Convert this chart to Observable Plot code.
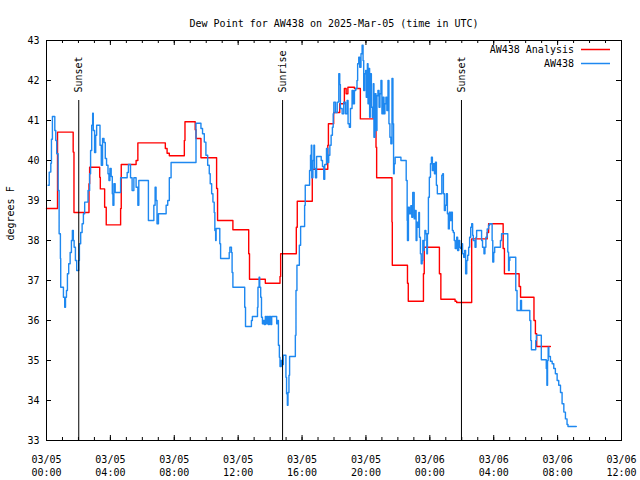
<!DOCTYPE html>
<html><head><meta charset="utf-8">
<script src="https://cdn.jsdelivr.net/npm/d3@7"></script>
<script src="https://cdn.jsdelivr.net/npm/@observablehq/plot@0.6"></script>
<style>body{margin:0;background:#fff}</style>
</head><body><div id="chart"></div>
<script>
const title = "Dew Point for AW438 on 2025-Mar-05 (time in UTC)";
const yLabel = "degrees F";
const startUTC = "2025-03-05T00:00:00Z";
const endUTC = "2025-03-06T12:00:00Z";
const yTicks = [33, 34, 35, 36, 37, 38, 39, 40, 41, 42, 43];
const seriesNames = ["AW438 Analysis", "AW438"];
const seriesColors = ["#ff0000", "#1e88f0"];
const eventLabels = ["Sunset", "Sunrise", "Sunset"];
const eventHours = [2.02, 14.78, 25.98];

// hours since 2025-03-05 00:00 UTC
const analysisHours = [0.00,0.69,1.67,1.72,2.66,2.70,3.33,3.37,3.64,3.74,4.64,4.68,5.61,5.72,7.44,7.55,7.69,8.63,8.67,9.31,9.36,9.67,10.65,10.71,11.67,12.66,12.71,13.70,14.62,14.66,15.64,15.70,16.64,17.61,17.65,17.98,18.36,18.65,18.76,18.87,19.28,19.65,20.63,20.67,21.63,21.65,22.60,22.65,23.60,23.65,24.60,24.69,25.58,25.68,26.62,27.59,27.68,28.59,28.67,29.59,29.68,30.52,30.61,30.69,31.55];
const analysisValues = [38.8,40.71,40.21,38.7,39.42,39.83,39.58,39.29,38.83,38.39,38.8,39.9,40.0,40.44,40.3,40.18,40.12,40.5,40.97,40.77,40.55,40.07,39.3,38.5,38.27,37.67,37.03,36.93,37.1,37.67,38.33,38.98,39.78,40.38,40.92,41.2,41.42,41.8,41.67,41.83,41.8,41.04,40.33,39.57,38.46,37.38,36.93,36.48,37.17,37.83,37.17,36.53,36.48,36.45,38.04,38.2,38.42,37.8,37.17,36.85,36.58,36.0,35.67,35.35,35.35];

const obsHours = [0.10,0.17,0.27,0.31,0.37,0.52,0.58,0.64,0.73,0.79,0.87,0.89,1.06,1.14,1.19,1.25,1.31,1.39,1.48,1.56,1.62,1.68,1.73,1.81,1.89,2.02,2.06,2.14,2.23,2.31,2.39,2.60,2.70,2.76,2.83,2.89,2.93,3.01,3.08,3.14,3.35,3.43,3.51,3.60,3.68,3.76,3.85,3.91,3.97,4.05,4.12,4.16,4.22,4.30,4.64,5.05,5.13,5.26,5.36,5.47,5.61,5.72,5.78,6.38,6.72,6.80,6.86,6.92,7.01,7.49,7.59,7.69,7.80,9.36,9.67,9.77,9.88,9.98,10.09,10.19,10.25,10.34,10.42,10.50,10.54,10.59,10.62,10.85,10.90,11.44,11.48,11.58,11.62,11.67,12.41,12.46,12.83,12.89,13.21,13.24,13.31,13.35,13.41,13.46,13.52,13.58,13.64,13.70,13.77,13.83,13.89,13.95,14.04,14.10,14.41,14.47,14.52,14.58,14.62,14.70,14.77,14.83,14.99,15.03,15.08,15.12,15.18,15.22,15.58,15.62,15.68,15.83,15.91,16.16,16.20,16.47,16.53,16.58,16.61,16.68,16.74,16.78,16.84,16.91,17.20,17.28,17.36,17.42,17.53,17.61,17.67,17.74,17.82,17.90,17.95,17.99,18.09,18.20,18.30,18.36,18.40,18.51,18.61,18.72,18.82,18.88,18.96,19.03,19.13,19.20,19.28,19.36,19.44,19.48,19.55,19.61,19.69,19.76,19.82,19.86,19.92,19.98,20.02,20.09,20.13,20.19,20.23,20.27,20.34,20.40,20.46,20.50,20.57,20.63,20.69,20.75,20.82,20.88,20.94,21.00,21.07,21.13,21.19,21.25,21.31,21.38,21.44,21.50,21.56,21.63,21.69,21.73,21.77,21.83,22.19,22.52,22.58,22.60,22.66,22.72,22.81,22.87,22.93,23.02,23.08,23.14,23.19,23.25,23.31,23.35,23.41,23.46,23.52,23.56,23.60,23.64,23.69,23.75,23.81,23.85,23.91,23.97,24.04,24.10,24.16,24.22,24.29,24.35,24.41,24.47,24.75,24.81,24.85,24.91,24.97,25.03,25.10,25.16,25.22,25.28,25.35,25.41,25.47,25.53,25.59,25.68,25.74,25.81,25.87,25.93,25.99,26.05,26.12,26.18,26.24,26.31,26.37,26.43,26.49,26.56,26.62,26.68,26.72,26.83,26.89,26.93,27.24,27.30,27.39,27.45,27.51,27.59,27.68,27.74,27.90,27.94,28.00,28.06,28.42,28.49,28.88,28.93,28.97,29.01,29.38,29.46,29.68,29.74,30.26,30.32,30.36,30.63,30.67,30.98,31.29,31.33,31.37,31.41,31.45,31.55,31.66,31.76,31.86,31.97,32.07,32.18,32.28,32.39,32.49,32.59,32.65,33.17];
const obsValues = [39.38,39.71,39.93,40.53,41.1,40.75,40.5,40.17,39.25,38.17,37.55,36.83,36.58,36.33,36.58,36.75,37.17,37.42,37.7,38.0,38.25,38.0,37.83,37.5,37.25,37.5,37.92,38.2,38.42,38.67,38.96,39.25,39.67,40.25,40.88,41.18,40.75,40.2,40.63,40.88,40.38,39.88,40.55,40.45,40.05,39.88,39.67,39.5,39.8,39.6,39.17,38.88,39.42,39.2,39.57,39.7,39.9,39.57,39.25,39.57,39.33,38.88,39.5,38.5,38.88,39.33,39.0,38.42,38.67,38.88,39.0,39.57,39.95,40.93,40.8,40.67,40.46,40.13,39.88,39.67,39.42,39.17,38.96,38.7,38.25,38.0,38.3,37.92,37.55,37.7,37.83,37.7,37.2,36.83,36.33,35.85,36.0,36.1,36.33,36.83,37.08,36.83,36.58,36.08,35.92,36.0,35.9,36.1,35.92,36.1,35.9,36.1,35.9,36.1,35.92,36.0,35.38,35.08,34.85,35.0,34.9,35.13,34.58,34.17,33.88,34.2,34.63,35.1,35.63,36.75,37.38,37.88,38.35,38.88,39.38,39.75,40.13,40.38,39.57,40.0,40.38,39.8,39.57,40.1,40.0,39.85,39.53,39.9,40.3,39.95,40.13,40.38,40.63,40.83,41.17,41.46,41.2,41.46,42.17,41.9,41.3,41.17,41.46,41.17,41.5,40.92,40.83,41.3,41.75,41.42,41.75,41.8,42.0,42.42,42.58,42.33,42.67,42.88,42.5,41.75,42.17,42.25,41.58,42.42,41.42,42.3,41.08,42.17,41.33,41.08,41.92,40.58,41.67,40.75,41.62,41.75,41.33,41.67,42.0,41.17,41.58,41.17,41.42,41.58,41.25,42.0,40.92,40.58,40.42,42.05,40.92,39.67,39.92,40.08,40.0,39.5,38.5,38.0,38.83,38.67,38.87,38.58,39.2,38.54,38.75,38.0,38.46,38.33,38.7,38.08,37.67,37.42,37.5,38.0,37.75,38.0,38.25,38.17,37.67,38.17,39.08,39.58,39.92,40.08,39.75,39.92,39.67,39.96,39.38,39.17,39.63,39.67,39.17,38.75,38.88,39.17,38.67,38.29,38.71,38.5,38.71,38.25,38.2,38.0,37.8,38.08,37.75,38.0,37.83,37.8,37.92,37.67,37.58,37.75,37.17,37.5,37.63,37.83,38.08,38.33,38.42,38.13,38.0,37.83,38.08,38.25,38.0,37.83,37.67,37.83,38.08,38.29,38.38,38.42,38.0,37.46,37.7,37.83,38.0,38.17,37.71,37.25,37.5,37.58,36.75,36.25,36.5,36.25,36.0,35.5,35.27,35.5,35.63,35.02,34.8,34.38,35.0,35.33,35.1,34.98,34.92,34.8,34.67,34.5,34.38,34.2,33.92,33.71,33.54,33.4,33.35,33.35];

const FONT = "'DejaVu Sans Mono', 'Liberation Mono', monospace";
const t0 = Date.parse(startUTC);
const t1 = Date.parse(endUTC);
const toDate = h => new Date(t0 + h * 3600000);
const analysis = analysisHours.map((h, i) => ({time: toDate(h), value: analysisValues[i]}));
const obs = obsHours.map((h, i) => ({time: toDate(h), value: obsValues[i]}));
const events = eventHours.map((h, i) => ({time: toDate(h), label: eventLabels[i]}));

const W = 640, H = 480, ML = 46, MR = 19, MT = 40, MB = 40;
const FW = W - ML - MR, FH = H - MT - MB;
const majorX = d3.utcHour.every(4).range(new Date(t0), new Date(t1 + 1));
const minorX = d3.utcHour.range(new Date(t0), new Date(t1 + 1));
const fmtD = d3.utcFormat("%m/%d"), fmtT = d3.utcFormat("%H:%M");

function legend(index, scales, values, dims) {
  const g = d3.create("svg:g").attr("font-family", FONT).attr("font-size", 10);
  const xr = dims.width - dims.marginRight;
  seriesNames.forEach((name, i) => {
    const y = dims.marginTop + 9.5 + i * 14;
    g.append("text").attr("x", xr - 47).attr("y", y).attr("dy", "0.32em")
      .attr("text-anchor", "end").attr("fill", "#000").text(name);
    g.append("line").attr("x1", xr - 40).attr("x2", xr - 11).attr("y1", y).attr("y2", y)
      .attr("stroke", seriesColors[i]).attr("stroke-width", 1.5);
  });
  return g.node();
}

const chart = Plot.plot({
  width: W, height: H,
  marginLeft: ML, marginRight: MR, marginTop: MT, marginBottom: MB,
  style: {fontFamily: FONT, fontSize: "10px", background: "#fff", color: "#000"},
  x: {type: "utc", domain: [new Date(t0), new Date(t1)]},
  y: {domain: [33, 43]},
  marks: [
    Plot.line(analysis, {x: "time", y: "value", curve: "step-after", stroke: seriesColors[0], strokeWidth: 1.4}),
    Plot.line(obs, {x: "time", y: "value", curve: "step-after", stroke: seriesColors[1], strokeWidth: 1.4}),
    Plot.ruleX(events, {x: "time", insetTop: 60, stroke: "#000"}),
    Plot.text(events, {x: "time", text: "label", frameAnchor: "top", dy: 52, rotate: -90, textAnchor: "start", lineAnchor: "middle", fill: "#000"}),
    Plot.ruleX(minorX, {insetTop: FH - 3, stroke: "#000"}),
    Plot.ruleX(minorX, {insetBottom: FH - 3, stroke: "#000"}),
    Plot.ruleX(majorX, {insetTop: FH - 5, stroke: "#000"}),
    Plot.ruleX(majorX, {insetBottom: FH - 5, stroke: "#000"}),
    Plot.ruleY(yTicks, {insetRight: FW - 5, stroke: "#000"}),
    Plot.ruleY(yTicks, {insetLeft: FW - 5, stroke: "#000"}),
    Plot.axisX({ticks: majorX, tickSize: 0, tickPadding: 13, label: null, lineHeight: 1.3,
      tickFormat: d => fmtD(d) + "\n" + fmtT(d)}),
    Plot.axisY({ticks: yTicks, tickSize: 0, tickPadding: 7, label: null, tickFormat: d => String(d)}),
    Plot.text([title], {frameAnchor: "top", dy: -21, fill: "#000"}),
    Plot.text([yLabel], {frameAnchor: "left", dx: -36, rotate: -90, fill: "#000"}),
    Plot.frame({stroke: "#000"}),
    legend
  ]
});
document.getElementById("chart").append(chart);
</script>
</body></html>
